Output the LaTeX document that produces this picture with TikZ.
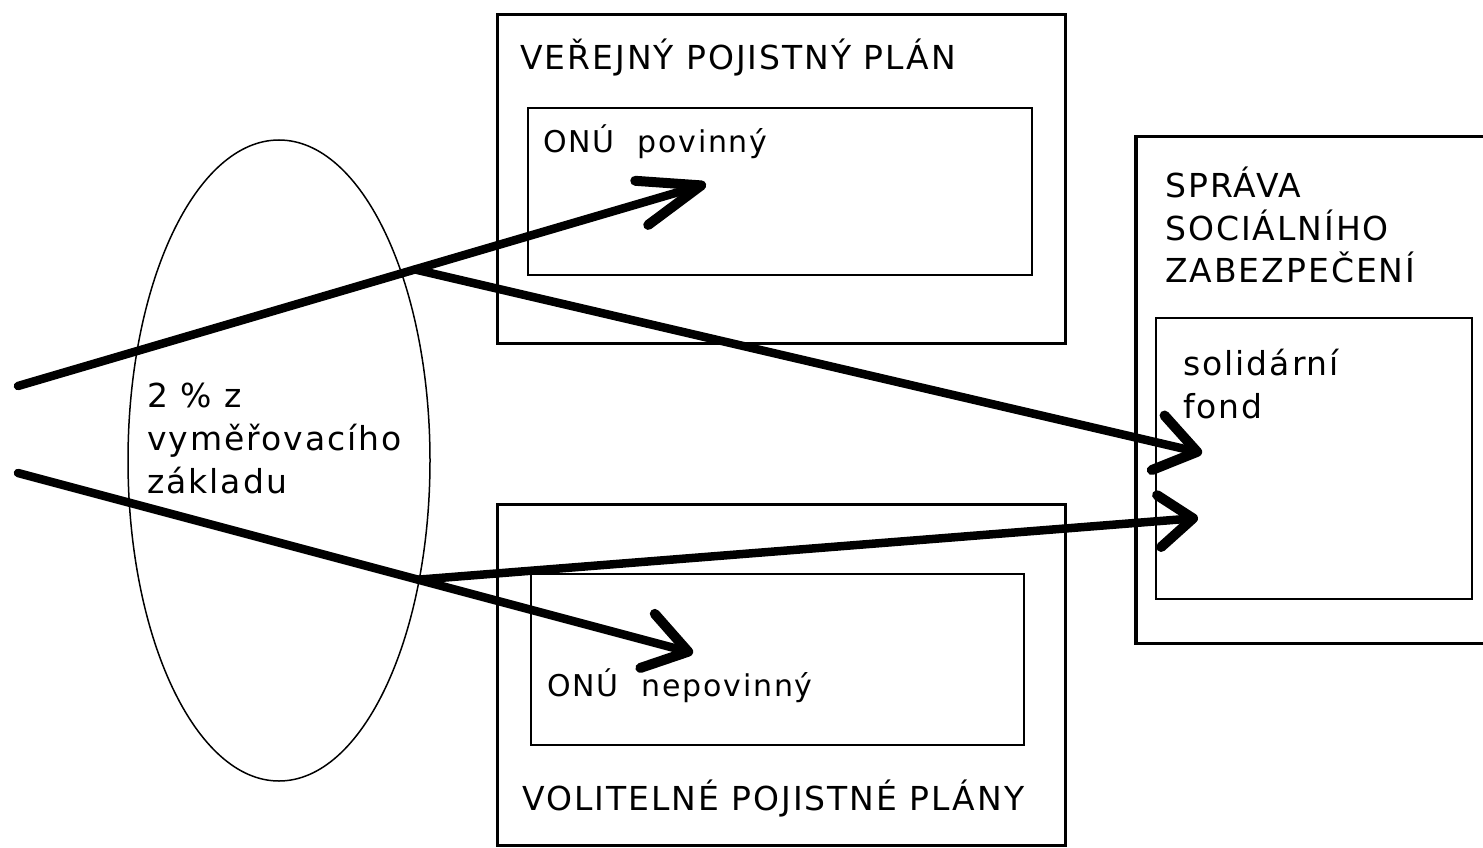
\documentclass[tikz,border=0pt]{standalone}
\usepackage{fontspec}
\setmainfont{DejaVu Sans}[LetterSpace=6]
\usetikzlibrary{arrows.meta,shapes.geometric,calc}
\begin{document}
\begin{tikzpicture}[x=1pt,y=-1pt,
  outerbox/.style={draw,line width=3.5pt,rectangle,inner sep=0pt,outer sep=0pt},
  innerbox/.style={draw,line width=1.8pt,rectangle,inner sep=0pt,outer sep=0pt},
  lbl/.style={anchor=base west,inner sep=0pt,font=\fontsize{33}{40}\selectfont},
  slbl/.style={anchor=base west,inner sep=0pt,font=\fontsize{30}{36}\selectfont},
  flow/.style={line width=8.5pt,line cap=round,line join=round},
]
\useasboundingbox (0,0) rectangle (1483,848);
\fill[white] (0,0) rectangle (1483,848);
\clip (0,0) rectangle (1483,848);

% boxes
\node[outerbox,minimum width=568pt,minimum height=329pt] (vpp) at (781.5,179) {};
\node[innerbox,minimum width=504pt,minimum height=167pt] (onup) at (780,191.5) {};
\node[outerbox,minimum width=568pt,minimum height=341pt] (volp) at (781.5,675) {};
\node[innerbox,minimum width=493pt,minimum height=171pt] (onun) at (777.5,659.5) {};
\node[outerbox,minimum width=364pt,minimum height=507pt] (ssz) at (1318,390) {};
\node[innerbox,minimum width=316pt,minimum height=281pt] (sf) at (1314,458.5) {};
\node[draw,ellipse,line width=1.5pt,minimum width=302pt,minimum height=641pt,inner sep=0pt] (el) at (279,460.5) {};

% labels
\node[lbl] (t-vpp) at (520,70) {VEŘEJNÝ POJISTNÝ PLÁN};
\node[slbl] (t-onup) at (543,153) {ONÚ\ \ povinný};
\node[slbl] (t-onun) at (547,696) {ONÚ\ \ nepovinný};
\node[lbl] (t-volp) at (522,810) {VOLITELNÉ POJISTNÉ PLÁNY};
\node[lbl] (t-ssz1) at (1165,197) {SPRÁVA};
\node[lbl] (t-ssz2) at (1165,240) {SOCIÁLNÍHO};
\node[lbl] (t-ssz3) at (1165,282) {ZABEZPEČENÍ};
\node[lbl] (t-sf1) at (1183,375) {solidární};
\node[lbl] (t-sf2) at (1183,418) {fond};
\node[lbl] (t-el1) at (147,407) {2 \% z};
\node[lbl] (t-el2) at (147,450) {vyměřovacího};
\node[lbl] (t-el3) at (147,493) {základu};

% flows
\coordinate (s1) at (18,386);
\coordinate (t1) at (706,184);
\coordinate (s3) at (18,473);
\coordinate (t3) at (693,653);
\coordinate (t2) at (1202,453);
\coordinate (t4) at (1198,518);
\coordinate (j1) at ($(s1)!0.577!(t1)$);
\coordinate (j2) at ($(s3)!0.5926!(t3)$);

\draw[flow,-{Straight Barb[length=62pt,width=46pt,round,line width=10pt]}] (s1) -- (t1);
\draw[flow,-{Straight Barb[length=40pt,width=56pt,round,line width=10pt]}] (j1) -- (t2);
\draw[flow,-{Straight Barb[length=42pt,width=56pt,round,line width=10pt]}] (s3) -- (t3);
\draw[flow,-{Straight Barb[length=34pt,width=52pt,round,line width=10pt]}] (j2) -- (t4);
\end{tikzpicture}
\end{document}
